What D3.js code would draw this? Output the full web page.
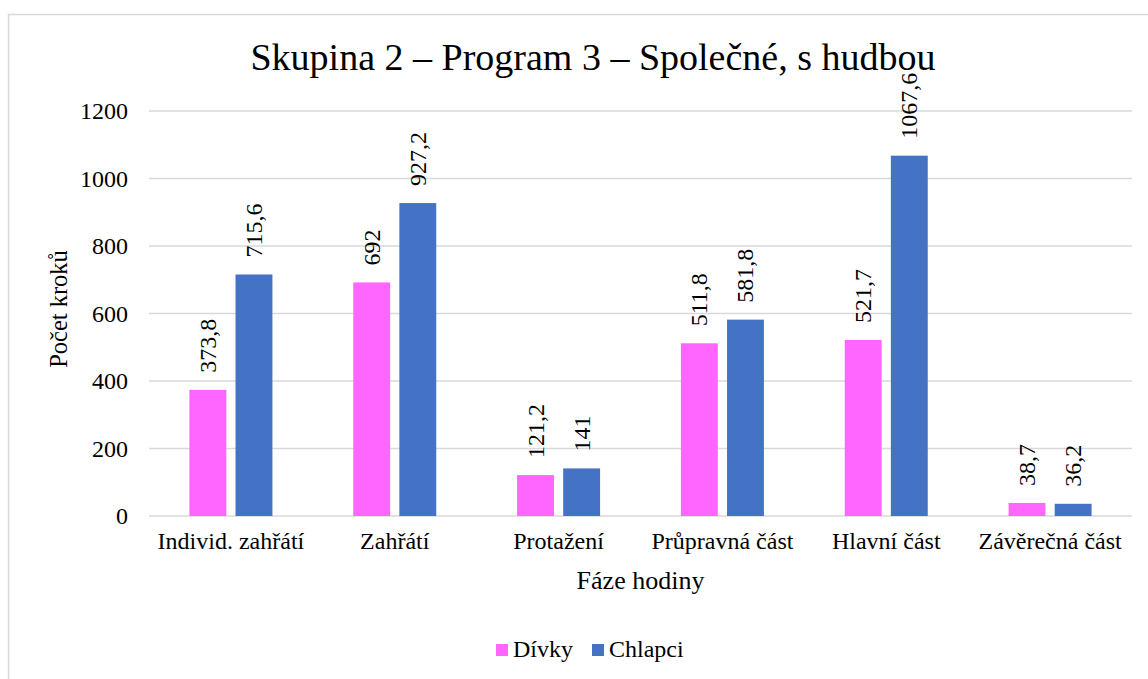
<!DOCTYPE html>
<html>
<head>
<meta charset="utf-8">
<script src="https://cdn.jsdelivr.net/npm/d3@7"></script>
<style>
  body { margin: 0; background: #fff; }
</style>
</head>
<body>
<div id="chart"></div>
<script>
// data
var categories = ["Individ. zahřátí", "Zahřátí", "Protažení", "Průpravná část", "Hlavní část", "Závěrečná část"];
var divky = [373.8, 692, 121.2, 511.8, 521.7, 38.7];
var chlapci = [715.6, 927.2, 141, 581.8, 1067.6, 36.2];
var seriesNames = ["Dívky", "Chlapci"];
var seriesColors = ["#ff66ff", "#4472c4"];
var yTicks = [0, 200, 400, 600, 800, 1000, 1200];

var svgWidth = 1148;
var svgHeight = 679;
var serif = "'Liberation Serif', 'Times New Roman', serif";

var margin = { top: 111, right: 16, bottom: 163, left: 149 };
var width = svgWidth - margin.left - margin.right;
var height = svgHeight - margin.top - margin.bottom;

var svg = d3.select("#chart")
  .append("svg")
  .attr("width", svgWidth)
  .attr("height", svgHeight)
  .style("font-family", serif);

// chart border
svg.append("rect")
  .attr("x", 8.5)
  .attr("y", 14.5)
  .attr("width", svgWidth)
  .attr("height", svgHeight)
  .attr("fill", "none")
  .attr("stroke", "#d9d9d9")
  .attr("stroke-width", 1.5);

var chartGroup = svg.append("g")
  .attr("transform", `translate(${margin.left}, ${margin.top})`);

var x0 = d3.scaleBand()
  .domain(categories)
  .range([0, width]);

var x1 = d3.scaleBand()
  .domain(seriesNames)
  .range([x0.bandwidth() / 2 - 41.5, x0.bandwidth() / 2 + 41.5])
  .paddingInner(0.2);

var y = d3.scaleLinear()
  .domain([0, 1200])
  .range([height, 0]);

// gridlines
chartGroup.append("g")
  .selectAll("line")
  .data(yTicks)
  .enter()
  .append("line")
  .attr("x1", 0)
  .attr("x2", width)
  .attr("y1", d => y(d))
  .attr("y2", d => y(d))
  .attr("stroke", "#d9d9d9")
  .attr("stroke-width", 1.3);

// y axis labels
var leftAxis = d3.axisLeft(y).tickValues(yTicks).tickFormat(d3.format("d")).tickSize(0).tickPadding(21);
var yAxis = chartGroup.append("g").call(leftAxis);
yAxis.select(".domain").remove();
yAxis.attr("font-family", null).attr("font-size", null);
yAxis.selectAll("text")
  .style("font-family", serif)
  .style("font-size", "24px")
  .attr("fill", "#000");

// x axis labels
var bottomAxis = d3.axisBottom(x0).tickSize(0).tickPadding(16);
var xAxis = chartGroup.append("g")
  .attr("transform", `translate(0, ${height})`)
  .call(bottomAxis);
xAxis.select(".domain").remove();
xAxis.attr("font-family", null).attr("font-size", null);
xAxis.selectAll("text")
  .style("font-family", serif)
  .style("font-size", "24px")
  .attr("fill", "#000");

var rows = categories.map((c, i) => ({ cat: c, values: [divky[i], chlapci[i]] }));

var groups = chartGroup.selectAll(".grp")
  .data(rows)
  .enter()
  .append("g")
  .attr("class", "grp")
  .attr("transform", d => `translate(${x0(d.cat)}, 0)`);

groups.selectAll("rect")
  .data(d => d.values.map((v, j) => ({ name: seriesNames[j], value: v, color: seriesColors[j] })))
  .enter()
  .append("rect")
  .attr("x", d => x1(d.name))
  .attr("width", x1.bandwidth())
  .attr("y", d => y(d.value))
  .attr("height", d => height - y(d.value))
  .attr("fill", d => d.color);

// rotated value labels
groups.selectAll(".lbl")
  .data(d => d.values.map((v, j) => ({ name: seriesNames[j], value: v })))
  .enter()
  .append("text")
  .attr("class", "lbl")
  .attr("transform", d => `translate(${x1(d.name) + x1.bandwidth() / 2 + 8}, ${y(d.value) - 17}) rotate(-90)`)
  .attr("text-anchor", "start")
  .style("font-family", serif)
  .style("font-size", "24px")
  .text(d => String(d.value).replace(".", ","));

// title
svg.append("text")
  .attr("x", 593)
  .attr("y", 70)
  .attr("text-anchor", "middle")
  .style("font-family", serif)
  .style("font-size", "38px")
  .text("Skupina 2 – Program 3 – Společné, s hudbou");

// y axis title
svg.append("text")
  .attr("transform", "translate(67, 309) rotate(-90)")
  .attr("text-anchor", "middle")
  .style("font-family", serif)
  .style("font-size", "24.5px")
  .text("Počet kroků");

// x axis title
svg.append("text")
  .attr("x", margin.left + width / 2)
  .attr("y", 589)
  .attr("text-anchor", "middle")
  .style("font-family", serif)
  .style("font-size", "26px")
  .text("Fáze hodiny");

// legend
var legendItems = [{ name: "Dívky", x: 496 }, { name: "Chlapci", x: 592 }];
var legend = svg.append("g");
legendItems.forEach((item, i) => {
  legend.append("rect")
    .attr("x", item.x)
    .attr("y", 644)
    .attr("width", 12)
    .attr("height", 12)
    .attr("fill", seriesColors[i]);
  legend.append("text")
    .attr("x", item.x + 17)
    .attr("y", 657)
    .style("font-family", serif)
    .style("font-size", "24px")
    .text(item.name);
});
</script>
</body>
</html>
